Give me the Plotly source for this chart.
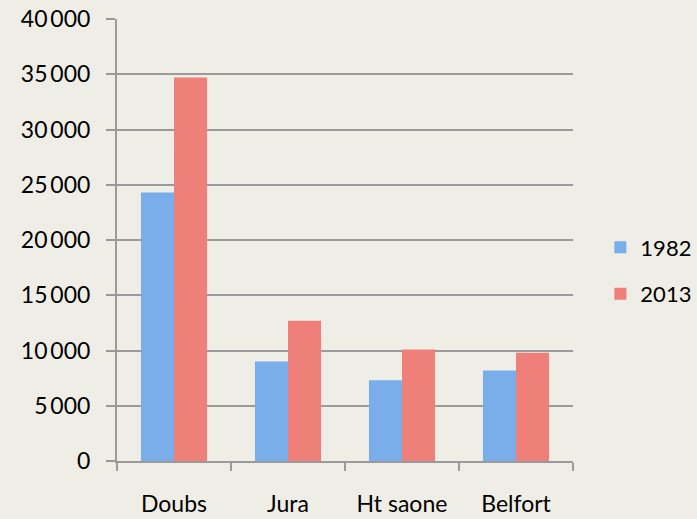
import plotly.graph_objects as go

categories = ["Doubs", "Jura", "Ht saone", "Belfort"]
values_1982 = [24300, 9000, 7300, 8200]
values_2013 = [34700, 12700, 10100, 9800]
series_names = ["1982", "2013"]
y_ticks = [0, 5000, 10000, 15000, 20000, 25000, 30000, 35000, 40000]

BG = "#EFEEE6"
GRID = "#9A9A9A"
FONT = dict(family="Lato, 'Open Sans', sans-serif", size=23, color="#000000")

fig = go.Figure()
fig.add_trace(go.Bar(x=categories, y=values_1982, name=series_names[0],
                     marker=dict(color="#7AAEEB", line=dict(width=0)),
                     legendgroup="a"))
fig.add_trace(go.Bar(x=categories, y=values_2013, name=series_names[1],
                     marker=dict(color="#EE7F79", line=dict(width=0)),
                     legendgroup="b"))

fig.update_layout(
    width=697, height=519, autosize=False,
    paper_bgcolor=BG, plot_bgcolor=BG,
    margin=dict(l=117, r=124, t=19, b=58, autoexpand=False),
    font=FONT,
    separators=",\u2009",
    barmode="group", bargap=0.42, bargroupgap=0,
    showlegend=True,
    legend=dict(x=1.06, xanchor="left", y=0.43, yanchor="middle",
                font=dict(size=22), tracegroupgap=15, itemwidth=30,
                bgcolor="rgba(0,0,0,0)"),
)
fig.update_xaxes(
    showgrid=False, showline=True, linecolor=GRID, linewidth=2,
    ticks="outside", tickson="boundaries", ticklen=8, tickwidth=2, tickcolor=GRID,
    ticklabelstandoff=21, tickfont=FONT,
)
fig.update_yaxes(
    range=[0, 40000], tickvals=y_ticks, tickformat=",d",
    showgrid=True, gridcolor=GRID, gridwidth=2,
    showline=True, linecolor=GRID, linewidth=2,
    ticks="outside", ticklen=9, tickwidth=2, tickcolor=GRID,
    ticklabelstandoff=11, tickfont=FONT, zeroline=False,
)

fig.write_html(
    "out.html",
    config={"displayModeBar": False},
    post_script="document.body.style.margin='0';document.body.style.background='" + BG + "';",
)
